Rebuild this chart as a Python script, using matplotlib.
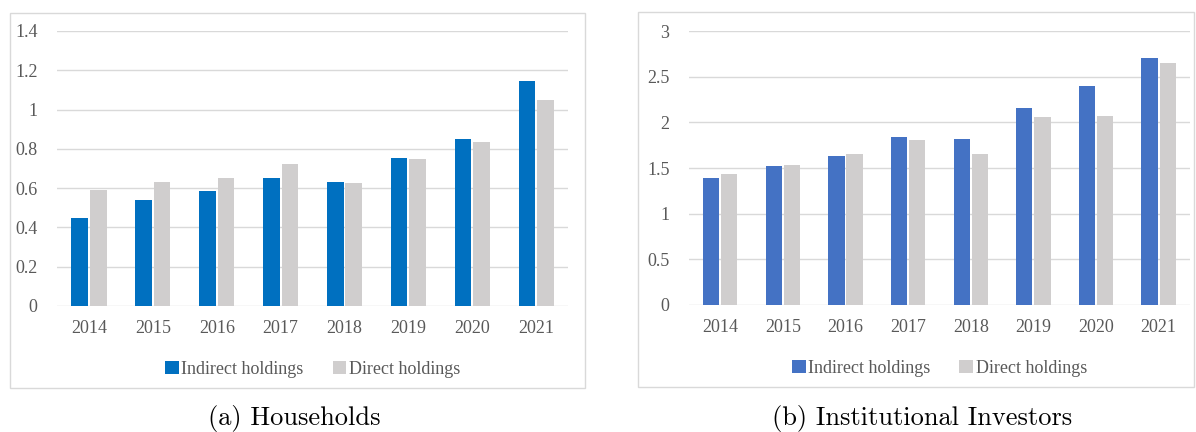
import numpy as np
import matplotlib.pyplot as plt
from matplotlib.patches import Rectangle

years = ['2014', '2015', '2016', '2017', '2018', '2019', '2020', '2021']

# (a) Households
hh_indirect = [0.45, 0.54, 0.585, 0.65, 0.63, 0.755, 0.85, 1.145]
hh_direct = [0.59, 0.63, 0.65, 0.725, 0.625, 0.75, 0.835, 1.05]

# (b) Institutional investors
ii_indirect = [1.39, 1.52, 1.63, 1.84, 1.82, 2.16, 2.40, 2.71]
ii_direct = [1.43, 1.53, 1.65, 1.81, 1.65, 2.06, 2.07, 2.65]

plt.rcParams['font.family'] = ['Liberation Serif', 'DejaVu Serif']

fig = plt.figure(figsize=(11.96, 4.32), dpi=100)


def panel(rect, frame, indirect, direct, color, ymax, step, caption, capx):
    ax = fig.add_axes(rect)
    x = np.arange(len(years))
    w = 0.26
    gap = 0.03
    ax.bar(x - w / 2 - gap / 2, indirect, w, color=color, label='Indirect holdings', zorder=3)
    ax.bar(x + w / 2 + gap / 2, direct, w, color='#D0CECE', label='Direct holdings', zorder=3)
    ax.set_xlim(-0.5, len(years) - 0.5)
    ax.set_ylim(0, ymax)
    ax.set_yticks(np.arange(0, ymax + step / 2, step))
    ax.set_yticklabels(['%g' % v for v in np.arange(0, ymax + step / 2, step)])
    ax.set_xticks(x)
    ax.set_xticklabels(years)
    ax.tick_params(length=0, labelsize=13, colors='#595959', pad=10)
    ax.tick_params(axis='y', pad=14)
    ax.grid(axis='y', color='#D9D9D9', linewidth=1, zorder=0)
    for s in ax.spines.values():
        s.set_visible(False)
    leg = ax.legend(loc='upper center', bbox_to_anchor=(0.5, -0.14), ncol=2, frameon=False,
                    fontsize=13, handlelength=0.75, handleheight=0.75, handletextpad=0.15,
                    columnspacing=1.6)
    for t in leg.get_texts():
        t.set_color('#595959')
    fig.add_artist(Rectangle(frame[:2], frame[2], frame[3], transform=fig.transFigure,
                             fill=False, edgecolor='#D9D9D9', linewidth=1))
    fig.text(capx, 0.032, caption, ha='center', va='center', fontsize=19, family='cmr10')
    return ax


panel([0.0477, 0.2917, 0.4273, 0.6366], [0.0084, 0.1019, 0.4808, 0.868],
      hh_indirect, hh_direct, '#0070C0', 1.4, 0.2, '(a) Households', 0.246)
panel([0.576, 0.294, 0.419, 0.634], [0.5334, 0.1042, 0.4649, 0.868],
      ii_indirect, ii_direct, '#4472C4', 3, 0.5, '(b) Institutional Investors', 0.771)

fig.savefig('out.png', dpi=100)
